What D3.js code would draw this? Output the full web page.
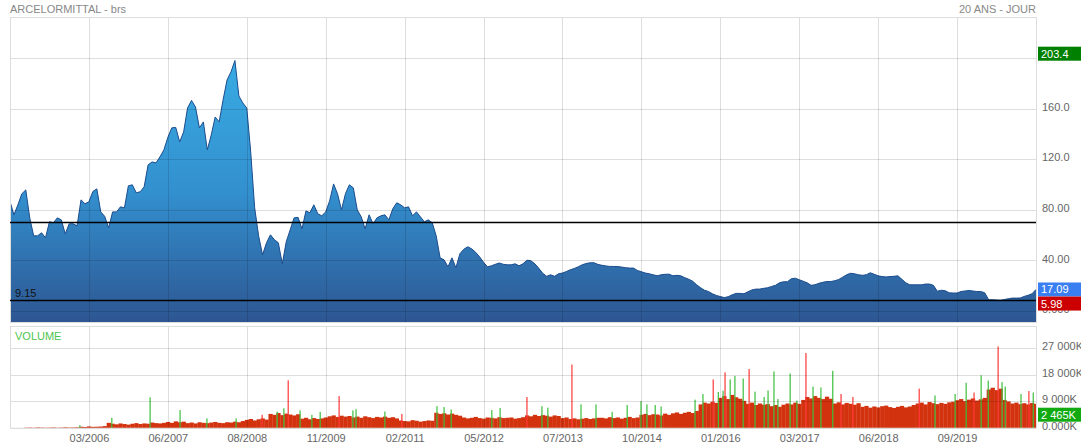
<!DOCTYPE html>
<html>
<head>
<meta charset="utf-8">
<script src="https://cdn.jsdelivr.net/npm/d3@7"></script>
<style>
  html, body { margin: 0; padding: 0; background: #fff; }
  svg { display: block; font-family: "Liberation Sans", Arial, sans-serif; }
</style>
</head>
<body>
<svg id="chart" width="1081" height="448"></svg>
<script>
// ---------------- DATA ----------------
const chartTitle = "ARCELORMITTAL - brs";
const periodLabel = "20 ANS - JOUR";
const volumeLabel = "VOLUME";

const xTickLabels = ["03/2006","06/2007","08/2008","11/2009","02/2011","05/2012",
                     "07/2013","10/2014","01/2016","03/2017","06/2018","09/2019"];
const xTickIndex = [20,40,60,80,100,120,140,160,180,200,220,240];

const priceGrid = [0, 40, 80, 120, 160, 200];
const priceTickLabels = [0, 40, 80, 120, 160];   // 200 is hidden behind the max box
const volumeTicks = [0, 9000, 18000, 27000];

const levelLines = [70.3, 9.15];
const levelLabel = "9.15";
const maxPrice = 203.4;
const lastPrice = 17.09;
const minPrice = 5.98;
const lastVolume = 2465;

// closing price, sampled at regular steps (261 samples)
const prices = [
  86.6, 76.1, 84.0, 92.7, 95.8, 73.7, 59.5, 59.5, 61.9, 57.9,
  70.6, 69.8, 73.7, 72.1, 61.1, 69.0, 69.0, 67.4, 87.9, 84.8,
  86.4, 94.5, 96.6, 78.4, 74.9, 65.8, 78.4, 78.4, 82.4, 81.6,
  99.0, 99.8, 93.5, 94.3, 98.2, 115.6, 117.9, 117.1, 121.9, 127.4,
  137.3, 144.8, 145.1, 133.7, 141.6, 160.5, 166.5, 161.3, 144.8, 149.5,
  127.4, 139.2, 153.4, 149.5, 166.9, 182.6, 189.0, 198.0, 170.0, 164.5,
  160.5, 125.8, 81.6, 59.5, 44.5, 54.0, 60.3, 56.4, 54.0, 37.4,
  54.8, 64.2, 73.7, 74.1, 65.0, 79.2, 77.7, 84.0, 76.9, 75.3,
  78.4, 87.1, 100.5, 92.7, 80.0, 92.7, 99.8, 97.4, 80.0, 74.5,
  65.0, 76.1, 69.0, 73.7, 75.3, 76.1, 72.1, 80.8, 85.6, 84.0,
  81.6, 82.4, 75.3, 78.4, 74.5, 70.6, 72.1, 69.8, 59.5, 42.1,
  40.5, 35.0, 42.1, 34.2, 45.3, 48.9, 50.8, 49.2, 46.5, 42.9,
  38.6, 35.0, 35.8, 37.0, 38.0, 37.0, 36.6, 36.6, 37.4, 35.8,
  37.4, 40.2, 39.8, 37.4, 33.9, 29.9, 27.5, 28.7, 27.5, 29.5,
  30.1, 31.3, 32.7, 33.7, 35.0, 36.6, 37.6, 38.2, 38.2, 36.9,
  36.2, 35.7, 35.3, 35.3, 35.2, 34.8, 34.3, 34.0, 34.0, 32.1,
  31.1, 30.1, 29.5, 28.7, 27.9, 28.7, 29.1, 29.2, 27.9, 28.3,
  27.9, 26.4, 25.2, 23.6, 20.8, 18.5, 16.5, 15.5, 13.7, 12.4,
  11.5, 10.7, 11.4, 12.9, 14.0, 14.0, 13.7, 15.3, 16.7, 17.4,
  17.4, 18.0, 18.5, 19.5, 20.4, 22.4, 23.2, 23.2, 25.6, 26.0,
  24.8, 23.6, 22.4, 20.4, 20.8, 22.0, 22.8, 23.4, 23.4, 24.0,
  25.0, 26.8, 28.7, 29.9, 29.5, 28.7, 28.3, 28.7, 30.3, 29.1,
  27.9, 27.3, 27.0, 27.3, 27.5, 27.9, 25.2, 22.4, 20.8, 20.8,
  20.8, 20.8, 21.4, 21.4, 20.4, 15.7, 16.5, 16.1, 14.5, 14.3,
  14.3, 15.5, 15.9, 16.3, 15.9, 15.5, 15.5, 14.5, 9.0, 9.0,
  8.8, 8.6, 9.2, 9.8, 10.3, 10.3, 10.4, 11.6, 12.5, 13.7,
  17.09
];

// typical volume (K) per sample
const volumes = [
  0, 0, 0, 0, 150, 200, 150, 250, 200, 150,
  200, 250, 150, 200, 300, 200, 250, 300,
  500, 400, 600, 450, 500, 550, 700,
  1800, 1500, 1300, 1600, 1400, 1200, 1500, 1700, 1400, 1600, 1500,
  1900, 1700, 1600, 1800,
  2100, 1800, 2300, 2000, 2200,
  1700, 1900, 1600, 2000, 1800, 1700, 1900, 2100, 1800, 1700, 2000, 1900, 2200, 2000, 2400,
  2800, 3100, 2600, 3000, 3300, 2900,
  4800, 4500, 5100, 4400, 4900, 4600, 4300, 4700,
  3200, 3500, 3000, 3400, 3100, 3300, 3600,
  4000, 4300, 3800, 4200, 3900, 4100,
  3600, 3900, 3500, 4000, 3700, 3400, 3800, 3600, 3900, 3500, 3700, 3300,
  2600, 2400, 2300, 2700, 2500, 2200, 2400, 2600, 2500,
  5200, 4800, 5000, 4600, 4900, 4500, 4200,
  3600, 3300, 3500, 3800, 3400, 3200, 3600, 3500, 3300, 3700, 3400, 3500, 3600, 3200, 3400, 3700,
  4300, 4000, 4500, 4100, 4400, 4200, 3900, 4300, 4100,
  3400, 3600, 3100, 3300, 3000, 3200, 3400, 3100, 3300, 3500,
  3500, 3300, 3700, 3400, 3600, 3200, 3500, 3800, 3400, 3600,
  4500, 4800, 4400, 4700, 4600, 4300, 4900, 4500,
  5000, 5300, 4800, 5200, 5500, 5100, 5800,
  8000, 8600, 8300, 8900, 8500,
  10200, 10800, 9800, 11200, 10400, 9900, 9200,
  8200, 8600, 7800, 8300, 7900, 8100,
  7400, 7800, 7200, 7900, 8300, 8000, 8600, 8200,
  9500, 10500, 10000, 10800, 10200, 9800, 10600, 9900,
  8300, 8700, 8000, 8500, 8200, 7900, 8400,
  7200, 7500, 6900, 7300, 7000, 7400, 7600, 7100, 6800, 7200, 7500, 7000, 7300, 7800,
  8300, 8600, 8000, 8800, 8400, 8100, 8500, 8200, 8700, 8900,
  9400, 9800, 9100, 9600, 10000, 9300, 9700, 10200,
  13000, 13600, 12800, 13300,
  9500, 9000,
  8300, 8600, 8100, 8400, 8000, 8500, 8200
];

// single-day volume peaks [sample position, volume K]
const volumeUpPeaks = [
  [17.7,1000],[25.8,3500],[35.5,10400],[43.1,6100],[49.9,3300],[57.3,3300],[67.7,5600],
  [69.4,6700],[73.5,6000],[76.5,4500],[78.6,5500],[86.9,6000],[87.7,6400],[95.0,5600],
  [108.2,7400],[110.0,7100],[111.8,6300],[122.1,6100],[124.2,6800],[134.8,7400],[136.3,6900],
  [144.7,8000],[148.5,8000],[152.6,5500],[156.4,7800],[159.9,9100],[161.4,8000],[163.5,7800],
  [165.0,7300],[173.6,9600],[175.6,11500],[179.5,12200],[180.7,12600],[182.5,16400],[183.7,17600],
  [185.8,16700],[188.8,12300],[191.1,10500],[192.1,12700],[193.6,19100],[194.6,9800],[197.7,18400],
  [199.4,9300],[203.5,14000],[205.5,13700],[208.5,19300],[234.4,11000],[239.5,11500],[242.3,15300],
  [246.1,17800],[247.9,16000],[251.4,15500],[252.2,14000],[256.2,11500],[259.3,12000]
];
const volumeDownPeaks = [
  [63.9,4500],[70.5,16100],[83.4,10800],[99.3,4800],[131.0,10500],[142.4,21400],[178.2,16400],
  [181.2,18800],[187.3,19900],[201.7,25300],[210.6,11500],[213.6,10500],[230.4,13300],
  [244.3,12000],[250.4,27500],[258.2,12500]
];

// ---------------- LAYOUT ----------------
const plotLeft = 10, plotRight = 1036;
const mainTop = 17, mainBottom = 322;
const volTop = 326.5, volBottom = 428.2;

const svg = d3.select("#chart");
const font = "11px";

const x = d3.scaleLinear().domain([0, prices.length - 1]).range([plotLeft, plotRight]);
const y = d3.scaleLinear().domain([-8.6, 232.4]).range([mainBottom, mainTop]);
const yv = d3.scaleLinear().domain([0, 34200]).range([volBottom, volTop]);

const defs = svg.append("defs");
const grad = defs.append("linearGradient").attr("id", "areaGrad")
  .attr("gradientUnits", "userSpaceOnUse")
  .attr("x1", 0).attr("x2", 0).attr("y1", y(198)).attr("y2", mainBottom);
grad.append("stop").attr("offset", "0%").attr("stop-color", "#38abe3");
grad.append("stop").attr("offset", "50%").attr("stop-color", "#3390cf");
grad.append("stop").attr("offset", "100%").attr("stop-color", "#2d5692");

defs.append("clipPath").attr("id", "clipMain").append("rect")
  .attr("x", plotLeft).attr("y", mainTop).attr("width", plotRight - plotLeft).attr("height", mainBottom - mainTop);
defs.append("clipPath").attr("id", "clipVol").append("rect")
  .attr("x", plotLeft).attr("y", volTop).attr("width", plotRight - plotLeft).attr("height", volBottom - volTop);

// titles
svg.append("text").attr("x", 10).attr("y", 13).attr("font-size", font).attr("fill", "#888").text(chartTitle);
svg.append("text").attr("x", plotRight).attr("y", 13).attr("text-anchor", "end")
  .attr("font-size", font).attr("fill", "#888").text(periodLabel);

// ---------------- MAIN PANEL ----------------
const main = svg.append("g").attr("clip-path", "url(#clipMain)");
const area = d3.area().x((d, i) => x(i)).y0(mainBottom).y1(d => y(d));
const line = d3.line().x((d, i) => x(i)).y(d => y(d));
main.append("path").datum(prices).attr("d", area).attr("fill", "url(#areaGrad)");

// gridlines (over the area, translucent)
const gridColor = "rgba(0,0,0,0.13)";
const gMainGrid = svg.append("g");
gMainGrid.selectAll("line.h").data(priceGrid).join("line")
  .attr("x1", plotLeft).attr("x2", plotRight)
  .attr("y1", d => Math.round(y(d)) + 0.5).attr("y2", d => Math.round(y(d)) + 0.5)
  .attr("stroke", gridColor);
gMainGrid.selectAll("line.v").data(xTickIndex).join("line")
  .attr("x1", d => Math.round(x(d)) + 0.5).attr("x2", d => Math.round(x(d)) + 0.5)
  .attr("y1", mainTop).attr("y2", mainBottom)
  .attr("stroke", gridColor);

main.append("path").datum(prices).attr("d", line)
  .attr("fill", "none").attr("stroke", "#1b4c8e").attr("stroke-width", 1);

// border
svg.append("rect").attr("x", plotLeft + 0.5).attr("y", mainTop + 0.5)
  .attr("width", plotRight - plotLeft).attr("height", mainBottom - mainTop)
  .attr("fill", "none").attr("stroke", "#ddd");

// level lines
svg.selectAll("line.level").data(levelLines).join("line")
  .attr("x1", plotLeft).attr("x2", plotRight)
  .attr("y1", d => Math.round(y(d)) + 0.5).attr("y2", d => Math.round(y(d)) + 0.5)
  .attr("stroke", "#000").attr("stroke-width", 1.3);
svg.append("text").attr("x", 15).attr("y", y(levelLines[1]) - 3)
  .attr("font-size", font).attr("fill", "#111").text(levelLabel);

// right axis
const fmt4 = d3.format(".4r");
const yAxis = svg.append("g").attr("transform", `translate(${plotRight},0)`)
  .call(d3.axisRight(y).tickValues(priceTickLabels).tickFormat(fmt4).tickSize(0).tickPadding(6));
yAxis.select(".domain").remove();
yAxis.selectAll("text").attr("dy", "0.14em").attr("font-size", font).attr("fill", "#666")
  .attr("font-family", "Liberation Sans, Arial, sans-serif");

// value boxes
function valueBox(yc, txt, color) {
  const g = svg.append("g");
  g.append("rect").attr("x", 1038).attr("y", yc - 7).attr("width", 43).attr("height", 14).attr("fill", color);
  g.append("text").attr("x", 1041).attr("y", yc + 4).attr("font-size", font).attr("fill", "#fff").text(txt);
}
const fmtRaw = d3.format("");
valueBox(y(maxPrice), fmtRaw(maxPrice), "#008000");
valueBox(y(lastPrice), fmtRaw(lastPrice), "#3a7ff2");
valueBox(y(minPrice), fmtRaw(minPrice), "#cc0000");

// ---------------- VOLUME PANEL ----------------
const vol = svg.append("g").attr("clip-path", "url(#clipVol)");
const step = x(1) - x(0);
vol.selectAll("rect.vbar").data(volumes).join("rect")
  .attr("x", (d, i) => x(i) - step / 2).attr("width", step + 0.3)
  .attr("y", d => yv(d)).attr("height", d => volBottom - yv(d))
  .attr("fill", "#d3320f");
vol.selectAll("rect.down").data(volumeDownPeaks).join("rect")
  .attr("x", d => x(d[0]) - 0.6).attr("width", 1.2)
  .attr("y", d => yv(d[1])).attr("height", d => volBottom - yv(d[1]))
  .attr("fill", "#ff3838");
vol.selectAll("rect.up").data(volumeUpPeaks).join("rect")
  .attr("x", d => x(d[0]) - 0.6).attr("width", 1.2)
  .attr("y", d => yv(d[1])).attr("height", d => volBottom - yv(d[1]))
  .attr("fill", "#3cbf3c");

const gVolGrid = svg.append("g");
gVolGrid.selectAll("line.h").data(volumeTicks).join("line")
  .attr("x1", plotLeft).attr("x2", plotRight)
  .attr("y1", d => Math.round(yv(d)) + 0.5).attr("y2", d => Math.round(yv(d)) + 0.5)
  .attr("stroke", gridColor);
gVolGrid.selectAll("line.v").data(xTickIndex).join("line")
  .attr("x1", d => Math.round(x(d)) + 0.5).attr("x2", d => Math.round(x(d)) + 0.5)
  .attr("y1", volTop).attr("y2", volBottom)
  .attr("stroke", gridColor);
svg.append("rect").attr("x", plotLeft + 0.5).attr("y", volTop)
  .attr("width", plotRight - plotLeft).attr("height", volBottom - volTop)
  .attr("fill", "none").attr("stroke", "#ddd");

svg.append("text").attr("x", 15).attr("y", 339.5).attr("font-size", font).attr("fill", "#4cc64c").text(volumeLabel);

const locale = d3.formatLocale({decimal: ".", thousands: "\u00a0", grouping: [3], currency: ["", ""]});
const fmtVol = v => locale.format(",.4r")(v) + "K";
const vAxis = svg.append("g").attr("transform", `translate(${plotRight},0)`)
  .call(d3.axisRight(yv).tickValues(volumeTicks).tickFormat(fmtVol).tickSize(0).tickPadding(6));
vAxis.select(".domain").remove();
vAxis.selectAll("text").attr("dy", "0.14em").attr("font-size", font).attr("fill", "#666")
  .attr("font-family", "Liberation Sans, Arial, sans-serif");

valueBox(Math.min(yv(lastVolume), volBottom - 13.5), fmtVol(lastVolume), "#11aa11");

// x axis
const xAxis = svg.append("g").attr("transform", `translate(0,${volBottom})`)
  .call(d3.axisBottom(x).tickValues(xTickIndex).tickFormat((d, i) => xTickLabels[i]).tickSize(0).tickPadding(6));
xAxis.select(".domain").remove();
xAxis.selectAll("text").attr("font-size", font).attr("fill", "#666")
  .attr("font-family", "Liberation Sans, Arial, sans-serif");
</script>
</body>
</html>
